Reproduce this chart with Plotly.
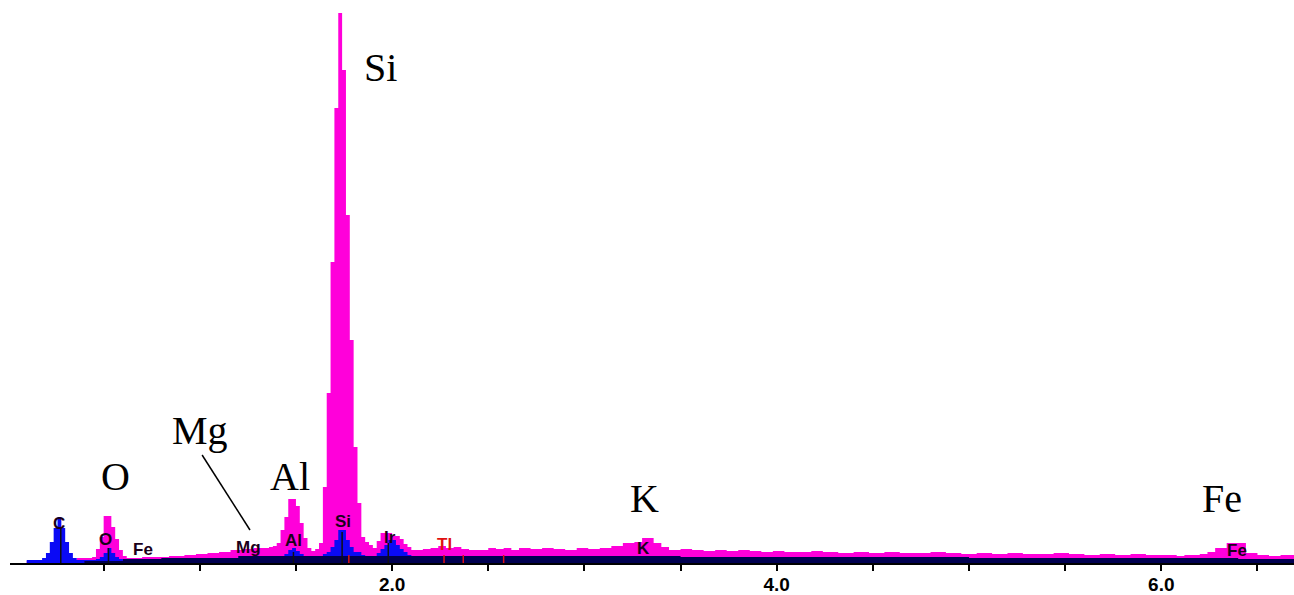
import plotly.graph_objects as go

# ---- spectrum data (channel start energy in keV, counts) ----
pink_e = [0.00, 0.10, 0.36, 0.44, 0.46, 0.48, 0.50, 0.52, 0.54, 0.56, 0.58, 0.60, 0.62, 0.70, 0.78, 0.84,
          0.92, 0.98, 1.04, 1.10, 1.16, 1.22, 1.28, 1.34, 1.36, 1.38, 1.40, 1.42, 1.44, 1.46, 1.48, 1.50,
          1.52, 1.54, 1.56, 1.58, 1.60, 1.62, 1.64, 1.66, 1.68, 1.70, 1.72, 1.74, 1.76, 1.78, 1.80, 1.82,
          1.84, 1.86, 1.88, 1.90, 1.92, 1.94, 1.96, 1.98, 2.00, 2.02, 2.04, 2.06, 2.08, 2.10, 2.16, 2.20,
          2.24, 2.28, 2.32, 2.36, 2.40, 2.46, 2.50, 2.54, 2.58, 2.62, 2.66, 2.72, 2.78, 2.84, 2.90, 2.96,
          3.02, 3.08, 3.14, 3.20, 3.26, 3.30, 3.36, 3.40, 3.44, 3.50, 3.56, 3.62, 3.68, 3.74, 3.80, 3.86,
          3.92, 3.98, 4.04, 4.10, 4.18, 4.24, 4.32, 4.40, 4.48, 4.56, 4.64, 4.72, 4.80, 4.88, 4.96, 5.04,
          5.12, 5.20, 5.28, 5.36, 5.44, 5.52, 5.60, 5.68, 5.76, 5.84, 5.92, 6.00, 6.08, 6.12, 6.20, 6.24,
          6.28, 6.34, 6.44, 6.50, 6.56, 6.62, 6.76]
pink_c = [0, 2, 5, 6, 14, 26, 47, 47, 36, 24, 13, 7, 5, 6, 6, 7,
          8, 9, 10, 11, 13, 14, 15, 15, 16, 17, 20, 33, 46, 64, 64, 57,
          40, 25, 15, 12, 14, 20, 76, 170, 301, 455, 550, 493, 348, 223, 116, 60,
          26, 21, 18, 15, 22, 30, 30, 30, 27, 27, 24, 19, 16, 13, 14, 15,
          17, 15, 16, 14, 13, 13, 15, 14, 15, 13, 15, 14, 15, 14, 13, 15,
          14, 15, 17, 20, 21, 25, 20, 16, 13, 14, 13, 12, 13, 12, 13, 12,
          11, 12, 11, 11, 12, 11, 10, 11, 10, 11, 10, 10, 11, 10, 9, 10,
          9, 10, 9, 9, 10, 9, 8, 9, 8, 9, 8, 8, 7, 8, 9, 11,
          15, 20, 10, 8, 7, 8, 8]

blue_e = [0.00, 0.10, 0.18, 0.20, 0.22, 0.24, 0.26, 0.28, 0.30, 0.32, 0.34, 0.36, 0.46, 0.48, 0.50,
          0.52, 0.54, 0.56, 0.58, 0.60, 1.42, 1.44, 1.46, 1.48, 1.50, 1.52, 1.54, 1.64, 1.66, 1.68,
          1.70, 1.72, 1.74, 1.76, 1.78, 1.80, 1.82, 1.84, 1.86, 1.92, 1.94, 1.96, 1.98, 2.00, 2.02,
          2.04, 2.06, 2.08, 2.10, 6.76]
blue_c = [0, 3, 5, 10, 21, 35, 46, 35, 21, 10, 5, 3, 4, 6, 10,
          15, 10, 6, 4, 0, 7, 9, 13, 15, 12, 9, 7, 9, 11, 16,
          23, 33, 33, 23, 16, 11, 11, 8, 7, 10, 14, 18, 23, 23, 18,
          14, 11, 8, 0, 0]

navy_e = [0.00, 0.40, 0.60, 0.80, 1.20, 2.60, 3.50, 5.00, 6.40, 6.76]
navy_c = [0, 2, 4, 5, 7, 7, 6, 5, 4, 4]

# ---- element markers ----
marker_black_e = [0.277, 0.525, 1.487, 1.740, 1.980]
marker_black_h = [36, 15, 11, 31, 20]
marker_red_e = [1.775, 2.270, 2.370, 2.580]
marker_red_h = [8, 8, 8, 8]

small_labels = ["C", "O", "Fe", "Mg", "Al", "Si", "Ir", "Tl", "K", "Fe"]
small_e = [0.268, 0.507, 0.705, 1.251, 1.485, 1.745, 1.989, 2.270, 3.305, 6.394]
small_h = [40, 24, 14, 16, 23, 42, 26, 19, 15, 13]
small_col = ["#1a001a"] * 7 + ["#e01010"] + ["#1a001a"] * 2

big_labels = ["Si", "O", "Mg", "Al", "K", "Fe"]
big_e = [1.942, 0.564, 1.001, 1.469, 3.310, 6.316]
big_h = [496, 87, 133, 87, 65, 65]

mg_line_e = [1.012, 1.261]
mg_line_h = [108, 33]

tick_vals = [0.5, 1.0, 1.5, 2.0, 2.5, 3.0, 3.5, 4.0, 4.5, 5.0, 5.5, 6.0, 6.5]
tick_text = ["", "", "", "2.0", "", "", "", "4.0", "", "", "", "6.0", ""]

fig = go.Figure()
fig.add_trace(go.Scatter(x=pink_e, y=pink_c, mode="lines", line=dict(width=0, shape="hv"),
                         fill="tozeroy", fillcolor="#FF00DA", hoverinfo="skip"))
fig.add_trace(go.Scatter(x=blue_e, y=blue_c, mode="lines", line=dict(width=0, shape="hv"),
                         fill="tozeroy", fillcolor="#0a0af5", hoverinfo="skip"))
fig.add_trace(go.Scatter(x=navy_e, y=navy_c, mode="lines", line=dict(width=0, shape="hv"),
                         fill="tozeroy", fillcolor="#000050", hoverinfo="skip"))

for e, h in zip(marker_black_e, marker_black_h):
    fig.add_shape(type="line", xref="x", yref="y", x0=e, x1=e, y0=0, y1=h,
                  line=dict(color="#101010", width=1.5))
for e, h in zip(marker_red_e, marker_red_h):
    fig.add_shape(type="line", xref="x", yref="y", x0=e, x1=e, y0=0, y1=h,
                  line=dict(color="#e01010", width=1.5))

fig.add_trace(go.Scatter(x=mg_line_e, y=mg_line_h, mode="lines",
                         line=dict(color="black", width=1.5), hoverinfo="skip"))

for t, e, h, c in zip(small_labels, small_e, small_h, small_col):
    fig.add_annotation(x=e, y=h, xref="x", yref="y", text=t, showarrow=False,
                       font=dict(family="Liberation Sans", size=17, color=c, weight="bold"))
for t, e, h in zip(big_labels, big_e, big_h):
    fig.add_annotation(x=e, y=h, xref="x", yref="y", text=t, showarrow=False,
                       font=dict(family="Liberation Serif", size=40, color="black"))

fig.update_layout(
    width=1294, height=595,
    margin=dict(l=10, r=0, t=0, b=32),
    paper_bgcolor="white", plot_bgcolor="white",
    showlegend=False,
    hovermode=False,
    xaxis=dict(range=[0.013, 6.690], showgrid=False, zeroline=False, automargin=False,
               showline=True, linecolor="black", linewidth=2,
               ticks="outside", ticklen=6, tickwidth=1.5, tickcolor="black",
               tickvals=tick_vals, ticktext=tick_text, ticklabelstandoff=-3,
               tickfont=dict(family="Liberation Sans", size=19, color="black", weight="bold")),
    yaxis=dict(range=[0, 563], visible=False, fixedrange=True, automargin=False),
)

# remove the default page margin so the figure fills the window exactly
fig.write_html("out.html", config={"displayModeBar": False},
               post_script="document.body.style.margin='0';document.body.style.overflow='hidden';")
